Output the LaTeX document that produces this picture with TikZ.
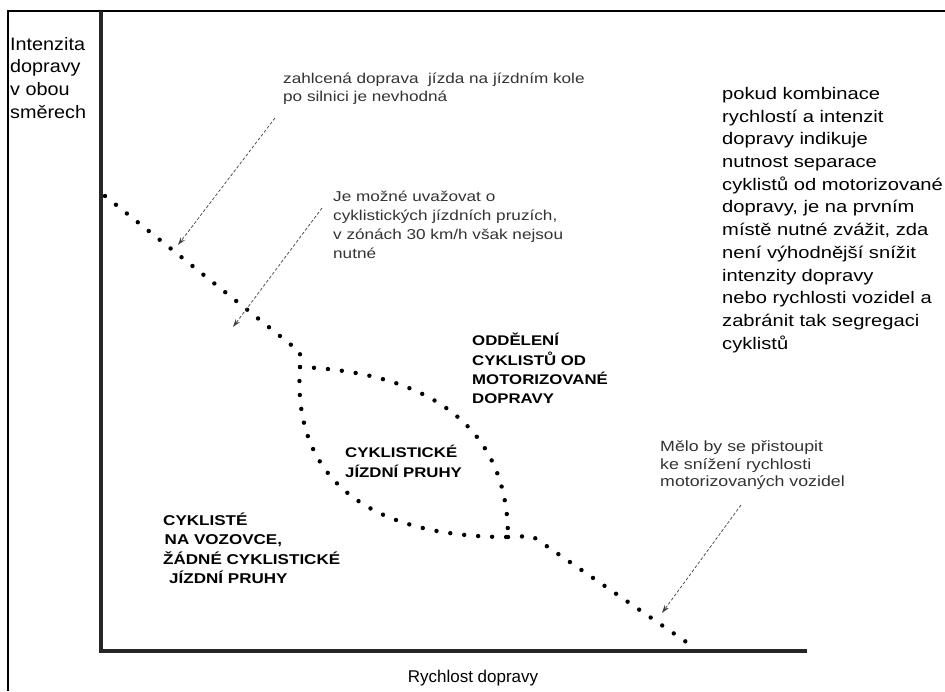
\documentclass[tikz,border=0pt]{standalone}
\usepackage{fontspec}
\setmainfont{Liberation Sans}
\newfontfamily\wide[FakeStretch=1.2]{Liberation Sans}
\newfontfamily\axfont[FakeStretch=1.1]{Liberation Sans}
\usetikzlibrary{arrows.meta}
\begin{document}
\begin{tikzpicture}[x=1pt,y=-1pt,
  frameline/.style={line width=1.3pt, black},
  axisline/.style={line width=3.5pt, black!85, line join=miter},
  dotline/.style={line width=4.4pt, line cap=round, dash pattern=on 0pt off 14pt, black},
  note/.style={anchor=north west, inner sep=0pt, align=left, text=black!80},
  region/.style={anchor=north west, inner sep=0pt, align=left, text=black},
  pointer/.style={black!75, line width=0.7pt, dash pattern=on 3pt off 2pt, -{Stealth[length=8pt,width=5pt]}},
]
\useasboundingbox[fill=white] (0,0) rectangle (945,691);

% frame
\draw[frameline] (945,11) -- (8,11) -- (8,691);

% axes
\draw[axisline] (101,11) -- (101,651) -- (807,651);

% axis labels
\node[note, text=black, font=\axfont\fontsize{18}{22.7}\selectfont] (ylab) at (10,34.1)
  {\strut Intenzita\\dopravy\\v obou\\směrech};
\node[anchor=base, inner sep=0pt, font=\fontsize{17}{20}\selectfont] (xlab) at (473,682) {Rychlost dopravy};

% dotted boundaries
\draw[dotline] (105,196) -- (300,352) -- (300,367);
\draw[dotline] (300,367) .. controls (420,372) and (508,420) .. (508,537);
\draw[dotline] (300,367) .. controls (292,480) and (370,537) .. (508,537);
\draw[dotline] (508,537) -- (532,536) -- (695,648);

% annotations
\node[note, font=\wide\fontsize{14.3}{18.4}\selectfont] (n1) at (283,70.4)
  {\strut zahlcená doprava\ \ jízda na jízdním kole\\po silnici je nevhodná};
\node[note, font=\wide\fontsize{14.3}{18.8}\selectfont] (n2) at (333,188.5)
  {\strut Je možné uvažovat o\\cyklistických jízdních pruzích,\\v zónách 30 km/h však nejsou\\nutné};
\node[note, font=\wide\fontsize{14.8}{17.5}\selectfont] (n3) at (660,439.5)
  {\strut Mělo by se přistoupit\\ke snížení rychlosti\\motorizovaných vozidel};
\node[note, text=black, font=\wide\fontsize{16.8}{22.7}\selectfont] (n4) at (722,83.4)
  {\strut pokud kombinace\\rychlostí a intenzit\\dopravy indikuje\\nutnost separace\\cyklistů od motorizované\\dopravy, je na prvním\\místě nutné zvážit, zda\\není výhodnější snížit\\intenzity dopravy\\nebo rychlosti vozidel a\\zabránit tak segregaci\\cyklistů};

% region labels
\node[region, font=\wide\bfseries\fontsize{14}{19}\selectfont] (r1) at (472,331.7)
  {\strut ODDĚLENÍ\\CYKLISTŮ OD\\MOTORIZOVANÉ\\DOPRAVY};
\node[region, font=\wide\bfseries\fontsize{14}{20}\selectfont] (r2) at (345,443)
  {\strut CYKLISTICKÉ\\JÍZDNÍ PRUHY};
\node[region, font=\wide\bfseries\fontsize{14.2}{19.5}\selectfont] (r3) at (163,511.4)
  {\strut CYKLISTÉ\\\hspace*{1.5pt}NA VOZOVCE,\\ŽÁDNÉ CYKLISTICKÉ\\\hspace*{6pt}JÍZDNÍ PRUHY};

% pointers
\coordinate (p1s) at (275,118);
\coordinate (p1e) at (178,245);
\coordinate (p2s) at (322,208);
\coordinate (p2e) at (233,327);
\coordinate (p3s) at (741,505);
\coordinate (p3e) at (662,613);
\draw[pointer] (p1s) -- (p1e);
\draw[pointer] (p2s) -- (p2e);
\draw[pointer] (p3s) -- (p3e);
\end{tikzpicture}
\end{document}
